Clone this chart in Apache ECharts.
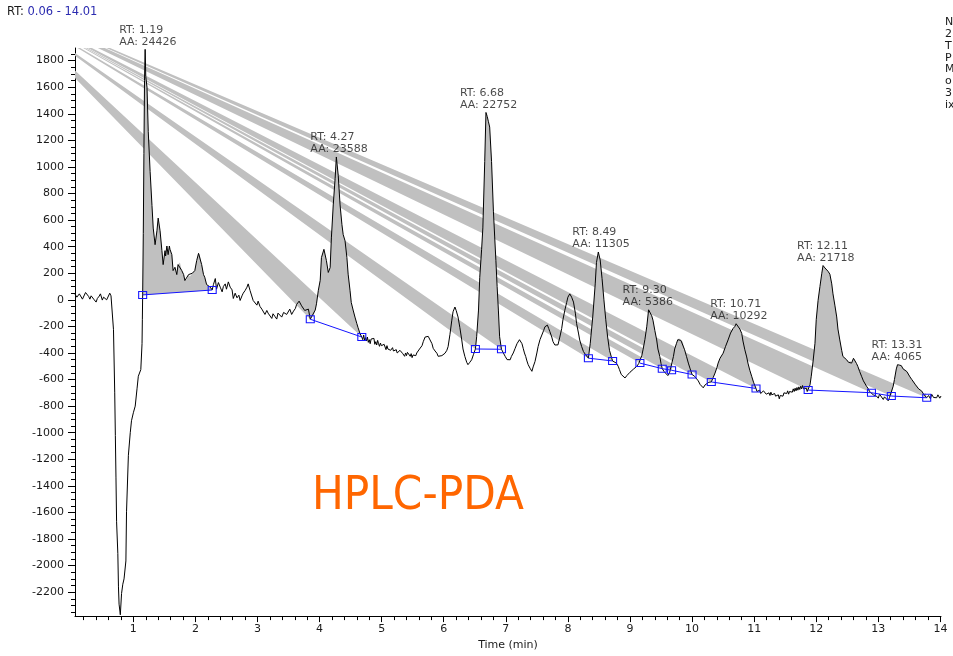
<!DOCTYPE html>
<html>
<head>
<meta charset="utf-8">
<script src="https://cdn.jsdelivr.net/npm/echarts@6/dist/echarts.min.js"></script>
<style>
  html, body { margin: 0; padding: 0; background: #fff; }
  #chart { width: 953px; height: 656px; }
</style>
</head>
<body>
<div id="chart"></div>
<script>
// Axis ranges (minutes / detector units)
const timeRange = [0.06, 14.01];
const signalRange = [-2380, 1895];

// Tick labels
const xTickLabels = [1, 2, 3, 4, 5, 6, 7, 8, 9, 10, 11, 12, 13, 14];
const yTickLabels = [-2200, -2000, -1800, -1600, -1400, -1200, -1000, -800, -600, -400, -200,
  0, 200, 400, 600, 800, 1000, 1200, 1400, 1600, 1800];

// Chromatogram trace, written in stretches: [time, signal]
const traceStart = [
  [0.06, 42], [0.09, 20], [0.11, 13], [0.13, 45], [0.16, 35], [0.18, 5], [0.21, 20], [0.23, 55], [0.25, 50], [0.28, 25],
  [0.30, 5], [0.32, 30], [0.35, 42], [0.37, 0], [0.40, -17], [0.42, 10], [0.45, 28], [0.47, 45], [0.50, -2], [0.52, 20],
  [0.54, 35], [0.57, 0], [0.59, 13], [0.62, 50], [0.64, 30], [0.66, 40],
  // solvent front dip
  [0.68, -225], [0.70, -700], [0.71, -1020], [0.72, -1340], [0.73, -1670], [0.75, -1910], [0.76, -2160], [0.77, -2290],
  [0.79, -2370], [0.81, -2210], [0.83, -2140], [0.85, -2100], [0.88, -1965], [0.89, -1595], [0.92, -1170], [0.95, -1000],
  [0.97, -910], [1.00, -850], [1.03, -800], [1.06, -665], [1.08, -575], [1.12, -525], [1.14, -330], [1.145, -150]
];
const tracePeak1 = [
  [1.15, 37], [1.16, 500], [1.17, 1100], [1.18, 1650], [1.19, 1885], [1.20, 1680], [1.22, 1600], [1.24, 1265], [1.27, 965],
  [1.30, 710], [1.32, 540], [1.35, 415], [1.38, 520], [1.40, 615], [1.43, 520], [1.46, 370], [1.48, 265], [1.51, 370],
  [1.52, 330], [1.54, 405], [1.56, 340], [1.58, 405], [1.59, 380], [1.62, 340], [1.64, 220], [1.67, 245], [1.70, 190],
  [1.72, 265], [1.75, 280], [1.78, 220], [1.81, 190], [1.83, 145], [1.86, 155], [1.89, 190], [1.91, 175], [1.95, 200],
  [1.99, 220], [2.02, 295], [2.05, 350], [2.07, 340], [2.10, 265], [2.13, 190], [2.15, 170], [2.18, 115], [2.21, 100],
  [2.24, 95], [2.27, 74]
];
const traceEarly = [
  [2.29, 115], [2.32, 160], [2.34, 80], [2.37, 130], [2.40, 95], [2.43, 60], [2.45, 100], [2.48, 120], [2.50, 80],
  [2.53, 135], [2.56, 95], [2.59, 75], [2.61, 10], [2.64, 50], [2.67, 15], [2.70, 35], [2.72, -5], [2.75, 30], [2.77, 50],
  [2.80, 70], [2.83, 95], [2.85, 120], [2.88, 70], [2.91, 55], [2.93, -5], [2.96, 5], [2.99, -40], [3.01, -10], [3.04, -50],
  [3.07, -70], [3.09, -55], [3.12, -110], [3.15, -80], [3.17, -100], [3.20, -95], [3.23, -140], [3.25, -105], [3.28, -125],
  [3.31, -145], [3.33, -100], [3.36, -105], [3.39, -130], [3.42, -95], [3.44, -85], [3.47, -110], [3.50, -95], [3.52, -70],
  [3.55, -110], [3.58, -85], [3.61, -65], [3.63, -35], [3.67, -10], [3.71, -45], [3.74, -55], [3.76, -80], [3.79, -90],
  [3.82, -70]
];
const tracePeak4 = [
  [3.85, -146], [3.88, -120], [3.90, -129], [3.93, -77], [3.95, -30], [3.98, 72], [4.01, 147], [4.03, 318], [4.07, 380],
  [4.11, 295], [4.14, 206], [4.17, 243], [4.19, 466], [4.22, 714], [4.25, 913], [4.27, 1075], [4.30, 937], [4.33, 714],
  [4.36, 565], [4.38, 491], [4.41, 444], [4.44, 318], [4.46, 193], [4.49, 72], [4.51, -20], [4.54, -77], [4.57, -130],
  [4.60, -179], [4.62, -210], [4.65, -253], [4.68, -280]
];
const traceMiddle = [
  [4.695, -300], [4.71, -265], [4.725, -305], [4.74, -285], [4.755, -310], [4.77, -280], [4.785, -320], [4.80, -300],
  [4.815, -330], [4.83, -295], [4.845, -285], [4.86, -310], [4.875, -290], [4.89, -335], [4.905, -315], [4.92, -340],
  [4.935, -305], [4.95, -330], [4.965, -350], [4.98, -325], [4.995, -345], [5.01, -330], [5.025, -360], [5.04, -335],
  [5.055, -350], [5.07, -375], [5.085, -345], [5.10, -370], [5.115, -385], [5.13, -355], [5.145, -380], [5.16, -395],
  [5.175, -360], [5.19, -385], [5.205, -370], [5.22, -395], [5.235, -375], [5.25, -400], [5.265, -385], [5.28, -410],
  [5.295, -380], [5.31, -395], [5.325, -375], [5.34, -405], [5.355, -390], [5.37, -425], [5.385, -400], [5.40, -420],
  [5.415, -395], [5.43, -410], [5.445, -390], [5.46, -425], [5.475, -405], [5.49, -435], [5.505, -415], [5.52, -430],
  [5.535, -405], [5.55, -420], [5.565, -400], [5.58, -405], [5.595, -385], [5.61, -370], [5.65, -345], [5.67, -315],
  [5.70, -280], [5.72, -265], [5.75, -275], [5.78, -290], [5.81, -330], [5.83, -365], [5.86, -385], [5.89, -402],
  [5.91, -425], [5.94, -439], [5.97, -420], [5.99, -426], [6.02, -402], [6.05, -380], [6.07, -352], [6.10, -260],
  [6.13, -153], [6.15, -90], [6.18, -54], [6.20, -80], [6.23, -129], [6.26, -210], [6.29, -302], [6.31, -370],
  [6.34, -426], [6.37, -470], [6.39, -488], [6.42, -470], [6.45, -451], [6.48, -410]
];
const tracePeak6 = [
  [6.51, -370], [6.53, -278], [6.56, -77], [6.58, 169], [6.61, 380], [6.63, 541], [6.66, 1040], [6.68, 1410], [6.70, 1380],
  [6.72, 1340], [6.74, 1300], [6.77, 1040], [6.80, 667], [6.82, 480], [6.84, 295], [6.86, 100], [6.88, -77], [6.90, -278],
  [6.93, -372]
];
const traceLate = [
  [6.96, -400], [6.99, -426], [7.02, -450], [7.04, -464], [7.07, -451], [7.09, -426], [7.12, -400], [7.15, -365],
  [7.18, -330], [7.20, -315], [7.22, -300], [7.24, -302], [7.26, -330], [7.28, -365], [7.30, -400], [7.32, -426],
  [7.34, -460], [7.36, -488], [7.39, -515], [7.42, -538], [7.44, -505], [7.47, -464], [7.50, -400], [7.52, -352],
  [7.55, -300], [7.58, -265], [7.61, -230], [7.63, -203], [7.67, -190], [7.69, -215], [7.71, -240], [7.74, -280],
  [7.76, -315], [7.79, -340], [7.82, -352], [7.84, -339], [7.87, -280], [7.90, -216], [7.92, -150], [7.95, -79],
  [7.98, -20], [8.00, 20], [8.03, 45], [8.06, 20], [8.09, -17], [8.12, -100], [8.14, -179], [8.17, -250], [8.19, -302],
  [8.22, -350], [8.25, -389], [8.28, -410], [8.30, -400]
];
const tracePeak8 = [
  [8.33, -439], [8.36, -327], [8.40, -129], [8.44, 120], [8.46, 280], [8.49, 360], [8.52, 300], [8.55, 160], [8.58, 0],
  [8.61, -150], [8.64, -280], [8.67, -380], [8.70, -430], [8.72, -460], [8.75, -470], [8.78, -476], [8.81, -500],
  [8.83, -525], [8.86, -562], [8.89, -575], [8.92, -588], [8.95, -570], [8.97, -562], [9.00, -545], [9.03, -538],
  [9.06, -520], [9.08, -513], [9.11, -500], [9.14, -480], [9.16, -476], [9.19, -420], [9.21, -376], [9.24, -300],
  [9.27, -203], [9.30, -75], [9.32, -85], [9.35, -120], [9.37, -153], [9.40, -230], [9.43, -302], [9.45, -370],
  [9.48, -426], [9.50, -480], [9.52, -518], [9.55, -540], [9.58, -551], [9.61, -570], [9.64, -545], [9.67, -530],
  [9.70, -426], [9.72, -370], [9.75, -327], [9.77, -300], [9.79, -290], [9.82, -305], [9.85, -315], [9.88, -376],
  [9.91, -425], [9.94, -476], [9.97, -520], [10.00, -562]
];
const tracePeak10 = [
  [10.04, -575], [10.07, -588], [10.10, -610], [10.13, -637], [10.16, -650], [10.18, -662], [10.21, -640], [10.24, -635],
  [10.27, -620], [10.31, -618], [10.34, -585], [10.37, -551], [10.40, -510], [10.42, -476], [10.45, -440], [10.50, -402],
  [10.54, -350], [10.58, -302], [10.62, -250], [10.66, -216], [10.69, -200], [10.71, -180], [10.74, -195], [10.77, -220],
  [10.80, -253], [10.82, -310], [10.85, -376], [10.88, -430], [10.90, -476], [10.93, -530], [10.96, -575], [10.99, -620],
  [11.03, -667]
];
const traceValley = [
  [11.045, -690], [11.06, -675], [11.075, -700], [11.09, -680], [11.105, -705], [11.12, -690], [11.135, -715], [11.15, -685],
  [11.165, -700], [11.18, -680], [11.195, -710], [11.21, -695], [11.225, -725], [11.24, -700], [11.255, -720], [11.27, -695],
  [11.285, -715], [11.30, -700], [11.315, -730], [11.33, -705], [11.345, -725], [11.36, -710], [11.375, -740], [11.39, -715],
  [11.405, -745], [11.42, -720], [11.435, -735], [11.45, -705], [11.465, -725], [11.48, -700], [11.495, -715], [11.51, -690],
  [11.525, -705], [11.54, -685], [11.555, -710], [11.57, -690], [11.585, -700], [11.60, -675], [11.615, -695], [11.63, -670],
  [11.645, -690], [11.66, -665], [11.675, -685], [11.69, -660], [11.705, -680], [11.72, -655], [11.735, -675], [11.75, -650],
  [11.765, -670], [11.78, -645], [11.795, -670], [11.81, -655], [11.825, -685], [11.84, -665], [11.855, -690]
];
const traceEnd = [
  [11.87, -679], [11.90, -640], [11.92, -575], [11.95, -460], [11.98, -327], [12.00, -150], [12.03, -4], [12.06, 100],
  [12.09, 200], [12.11, 258], [12.14, 240], [12.16, 230], [12.19, 215], [12.22, 193], [12.25, 120], [12.27, 45],
  [12.30, -40], [12.33, -129], [12.35, -220], [12.38, -302], [12.41, -380], [12.43, -426], [12.46, -440], [12.49, -451],
  [12.52, -470], [12.55, -460], [12.57, -476], [12.60, -440], [12.62, -451], [12.65, -480], [12.67, -501], [12.70, -540],
  [12.73, -575], [12.76, -610], [12.78, -625], [12.81, -650], [12.84, -670], [12.86, -690], [12.89, -699], [12.92, -715],
  [12.94, -700], [12.97, -724], [13.00, -740], [13.02, -710], [13.05, -724], [13.08, -750], [13.10, -730], [13.13, -737],
  [13.16, -760], [13.18, -735], [13.21, -724], [13.24, -650], [13.26, -600], [13.29, -520], [13.31, -488], [13.34, -500],
  [13.37, -495], [13.40, -520], [13.43, -525], [13.46, -540], [13.48, -551], [13.51, -580], [13.54, -600], [13.57, -615],
  [13.60, -640], [13.62, -650], [13.65, -670], [13.68, -680], [13.70, -687], [13.73, -710], [13.76, -700], [13.78, -737],
  [13.81, -720], [13.84, -745], [13.86, -711], [13.89, -735], [13.91, -750], [13.94, -737], [13.96, -715], [13.99, -740],
  [14.01, -724]
];

// Integrated peaks: baseline start / end times
const peakStart = [1.15, 3.85, 6.51, 8.33, 9.16, 9.67, 10.31, 11.87, 13.21];
const peakEnd   = [2.27, 4.68, 6.93, 8.72, 9.52, 10.00, 11.03, 12.89, 13.78];

// Annotated peaks
const labelRT   = [1.19, 4.27, 6.68, 8.49, 9.30, 10.71, 12.11, 13.31];
const labelArea = [24426, 23588, 22752, 11305, 5386, 10292, 21718, 4065];

// Baseline segments (times of the baseline markers)
const baselineSegments = [
  [1.15, 2.27], [3.85, 4.68], [6.51, 6.93], [8.33, 8.72],
  [9.16, 9.52, 9.67, 10.00], [10.31, 11.03], [11.87, 12.89, 13.21, 13.78]
];

// Point through which the peak-area polygons are closed
const fillAnchor = [-1.15, 2250];

// Header texts
const sideNotes = ['N', '2', 'T', 'P', 'M', 'o', '3', 'ix'];
const methodTag = 'HPLC-PDA';

const trace = [].concat(traceStart, tracePeak1, traceEarly, tracePeak4, traceMiddle, tracePeak6,
  traceLate, tracePeak8, tracePeak10, traceValley, traceEnd);

function valueAt(t) {
  for (let k = 0; k < trace.length; k++) {
    if (Math.abs(trace[k][0] - t) < 1e-9) return trace[k][1];
  }
  return null;
}

// minor tick positions: every 0.2 min and every 50 units
const xMinor = [];
for (let v = 2; v <= 140; v += 2) xMinor.push(v / 10);
const yMinor = [];
for (let v = -2350; v <= 1850; v += 50) yMinor.push(v);

const FONT = "'DejaVu Sans', 'Liberation Sans', Arial, sans-serif";
const INK = '#1a1a1a';
const BLUE = '#1414ff';

const chart = echarts.init(document.getElementById('chart'), null, { renderer: 'canvas' });

const baselineSeries = baselineSegments.map(seg => ({
  type: 'line',
  data: seg.map(t => [t, valueAt(t)]),
  symbol: 'rect',
  symbolSize: [8, 7],
  showSymbol: true,
  lineStyle: { color: BLUE, width: 1 },
  itemStyle: { color: 'rgba(255,255,255,0)', borderColor: BLUE, borderWidth: 1 },
  emphasis: { disabled: true },
  silent: true,
  z: 4
}));

const option = {
  animation: false,
  backgroundColor: '#fff',
  grid: { left: 75, right: 12, top: 48, bottom: 34 },
  xAxis: [
    {
      type: 'value', min: timeRange[0], max: timeRange[1], position: 'bottom',
      axisLine: { onZero: false, lineStyle: { color: '#000', width: 1 } },
      axisTick: { customValues: xTickLabels, length: 6, lineStyle: { color: '#000' } },
      axisLabel: { customValues: xTickLabels, color: INK, fontSize: 11, fontFamily: FONT, margin: 8 },
      splitLine: { show: false },
      name: 'Time (min)', nameLocation: 'middle', nameGap: 20,
      nameTextStyle: { color: INK, fontSize: 11, fontFamily: FONT }
    },
    {
      type: 'value', min: timeRange[0], max: timeRange[1], position: 'bottom',
      axisLine: { show: false, onZero: false },
      axisTick: { customValues: xMinor, length: 4, lineStyle: { color: '#000' } },
      axisLabel: { show: false },
      splitLine: { show: false }
    }
  ],
  yAxis: [
    {
      type: 'value', min: signalRange[0], max: signalRange[1], position: 'left',
      axisLine: { show: true, onZero: false, lineStyle: { color: '#000', width: 1 } },
      axisTick: { show: true, customValues: yTickLabels, length: 7, lineStyle: { color: '#000' } },
      axisLabel: { customValues: yTickLabels, color: INK, fontSize: 11, fontFamily: FONT, margin: 11,
        formatter: v => String(v) },
      splitLine: { show: false }
    },
    {
      type: 'value', min: signalRange[0], max: signalRange[1], position: 'left',
      axisLine: { show: false, onZero: false },
      axisTick: { show: true, customValues: yMinor, length: 4, lineStyle: { color: '#000' } },
      axisLabel: { show: false },
      splitLine: { show: false }
    }
  ],
  series: [
    {
      // integrated peak areas
      type: 'custom',
      coordinateSystem: 'cartesian2d',
      clip: true,
      silent: true,
      z: 1,
      data: peakStart.map((s, i) => [s, peakEnd[i]]),
      encode: { x: 0, y: 1 },
      renderItem(params, api) {
        const i = params.dataIndex;
        const s = peakStart[i], e = peakEnd[i];
        const pts = [];
        // every fill after the first is closed through the anchor point
        if (i > 0) pts.push(api.coord(fillAnchor));
        for (let k = 0; k < trace.length; k++) {
          const t = trace[k][0];
          if (t >= s - 1e-9 && t <= e + 1e-9) pts.push(api.coord(trace[k]));
        }
        return { type: 'polygon', shape: { points: pts }, style: { fill: '#c0c0c0' } };
      }
    },
    {
      type: 'line',
      data: trace,
      showSymbol: false,
      symbol: 'none',
      sampling: null,
      lineStyle: { color: '#000', width: 1 },
      emphasis: { disabled: true },
      silent: true,
      z: 3
    },
    ...baselineSeries,
    {
      type: 'scatter',
      data: labelRT.map(rt => [rt, valueAt(rt)]),
      symbolSize: 1,
      itemStyle: { color: 'rgba(0,0,0,0)' },
      silent: true,
      z: 5,
      label: {
        show: true,
        position: 'top',
        distance: 1,
        align: 'left',
        offset: [-26, 0],
        color: INK,
        fontSize: 11,
        lineHeight: 12,
        fontFamily: FONT,
        formatter: p => 'RT: ' + labelRT[p.dataIndex].toFixed(2) + '\nAA: ' + labelArea[p.dataIndex]
      }
    }
  ],
  graphic: [
    {
      type: 'text', left: 7, top: 6,
      style: {
        text: '{k|RT: }{v|' + timeRange[0].toFixed(2) + ' - ' + timeRange[1].toFixed(2) + '}',
        rich: {
          k: { fill: INK, fontSize: 11.5, fontFamily: FONT },
          v: { fill: '#2b2bb0', fontSize: 11.5, fontFamily: FONT }
        }
      }
    },
    {
      type: 'text', x: 312, y: 497,
      style: {
        text: methodTag, fill: '#ff6600',
        font: "47px 'Liberation Sans Narrow', 'DejaVu Sans Condensed', sans-serif",
        textVerticalAlign: 'middle', textAlign: 'left'
      }
    },
    ...sideNotes.map((s, i) => ({
      type: 'text', x: 945, y: 22 + i * 11.9,
      style: { text: s, fill: INK, fontSize: 11, fontFamily: FONT, textVerticalAlign: 'middle' }
    }))
  ]
};

chart.setOption(option);
</script>
</body>
</html>
